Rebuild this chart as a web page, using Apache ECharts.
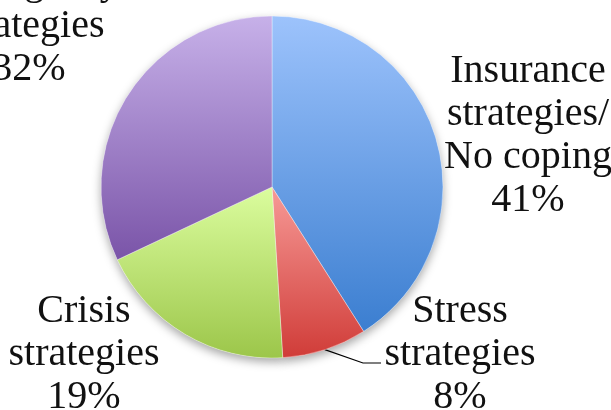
<!DOCTYPE html>
<html>
<head>
<meta charset="utf-8">
<script src="https://cdn.jsdelivr.net/npm/echarts@6/dist/echarts.min.js"></script>
<style>
html,body{margin:0;padding:0;background:#fff;}
#chart{width:611px;height:410px;}
</style>
</head>
<body>
<div id="chart"></div>
<script>
var categories = ['Insurance\nstrategies/\nNo coping', 'Stress\nstrategies', 'Crisis\nstrategies', 'Emergency\nstrategies'];
var values = [41, 8, 19, 32];
var gradTop = ['#9dc3fc', '#f79a97', '#dbfd9e', '#c7b1e9'];
var gradBottom = ['#3b7ed0', '#d03c38', '#9cc64a', '#7a54a8'];
// label block centres (layout only)
var labelPos = [[528, 136], [460, 354], [84, 354], [29, 26]];

var chart = echarts.init(document.getElementById('chart'), null, {renderer: 'canvas'});

function grad(i) {
  return new echarts.graphic.LinearGradient(0, 0, 0, 1, [
    {offset: 0, color: gradTop[i]},
    {offset: 1, color: gradBottom[i]}
  ]);
}

var mainData = categories.map(function (c, i) {
  return {
    name: c,
    value: values[i],
    itemStyle: {color: grad(i)},
    labelLine: {show: i === 1}
  };
});
var shadowData = categories.map(function (c, i) {
  return {name: c, value: values[i]};
});

chart.setOption({
  animation: false,
  backgroundColor: '#ffffff',
  series: [
    {
      type: 'pie',
      silent: true,
      center: [272, 187],
      radius: [0, 171],
      startAngle: 90,
      data: shadowData,
      label: {show: false},
      labelLine: {show: false},
      itemStyle: {
        color: '#ffffff',
        shadowBlur: 10,
        shadowOffsetY: 4,
        shadowColor: 'rgba(0,0,0,0.35)'
      },
      z: 1
    },
    {
      type: 'pie',
      center: [272, 187],
      radius: [0, 171],
      startAngle: 90,
      data: mainData,
      z: 2,
      itemStyle: {borderColor: 'rgba(255,255,255,0.6)', borderWidth: 0.6},
      label: {
        show: true,
        position: 'outside',
        formatter: '{b}\n{d}%',
        fontFamily: 'Liberation Serif',
        fontSize: 40,
        lineHeight: 43,
        color: '#111111',
        align: 'center',
        overflow: 'none',
        width: 300
      },
      labelLine: {
        show: true,
        length: 10,
        length2: 10,
        lineStyle: {color: '#000000', width: 1.2}
      },
      labelLayout: function (params) {
        var p = labelPos[params.dataIndex];
        var out = {x: p[0], y: p[1], align: 'center', verticalAlign: 'middle'};
        if (params.dataIndex === 1 && params.labelLinePoints) {
          var start = params.labelLinePoints[0];
          var left = p[0] - 75;
          var yMid = p[1] + 9;
          out.labelLinePoints = [start, [left - 22, yMid], [left - 4, yMid]];
        }
        return out;
      }
    }
  ]
});
</script>
</body>
</html>
